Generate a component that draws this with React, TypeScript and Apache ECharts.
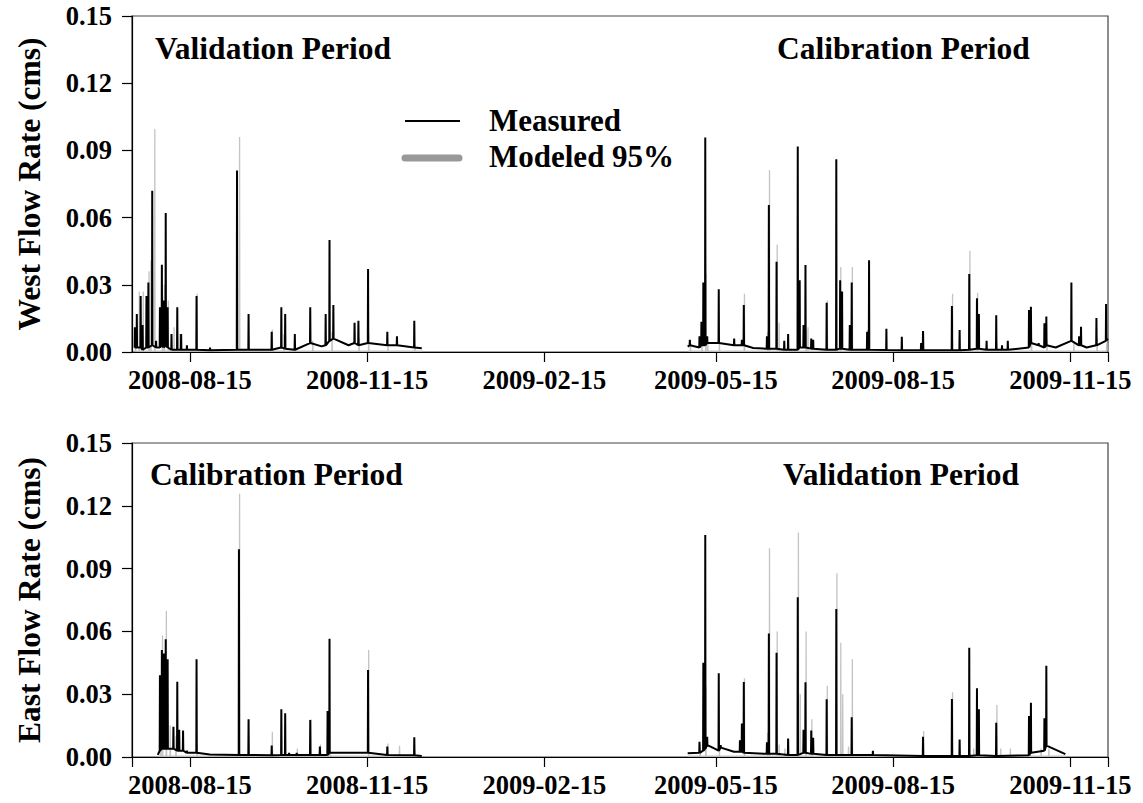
import React, { useEffect, useRef } from "react";
import * as echarts from "echarts";

// ---------- data ----------
// tick dates on the time axis
const tickDates = ["2008-08-15", "2008-11-15", "2009-02-15", "2009-05-15", "2009-08-15", "2009-11-15"];
const axisStart = "2008-07-16";
const axisEnd = "2009-12-04";

// measured events: [date, peak (cms), base flow around the event (cms)]
const westMeasured2008: [string, number, number][] = [
  ["2008-07-17", 0.011, 0.002], ["2008-07-18", 0.017, 0.002], ["2008-07-20", 0.025, 0.002],
  ["2008-07-21", 0.012, 0.001], ["2008-07-23", 0.025, 0.002], ["2008-07-24", 0.031, 0.002],
  ["2008-07-26", 0.072, 0.003], ["2008-07-28", 0.005, 0.002], ["2008-07-30", 0.020, 0.002],
  ["2008-07-31", 0.039, 0.003], ["2008-08-01", 0.023, 0.002], ["2008-08-02", 0.062, 0.003],
  ["2008-08-03", 0.020, 0.002], ["2008-08-05", 0.008, 0.001], ["2008-08-08", 0.020, 0.001],
  ["2008-08-10", 0.008, 0.001], ["2008-08-13", 0.003, 0.001], ["2008-08-18", 0.025, 0.001],
  ["2008-08-25", 0.002, 0.0008], ["2008-09-08", 0.081, 0.001], ["2008-09-14", 0.017, 0.001],
  ["2008-09-26", 0.009, 0.001], ["2008-10-01", 0.020, 0.002], ["2008-10-03", 0.017, 0.0015],
  ["2008-10-08", 0.008, 0.001], ["2008-10-16", 0.020, 0.004], ["2008-10-22", 0.0025, 0.0025],
  ["2008-10-24", 0.017, 0.003], ["2008-10-26", 0.050, 0.005], ["2008-10-28", 0.021, 0.006],
  ["2008-11-05", 0.003, 0.003], ["2008-11-08", 0.013, 0.004], ["2008-11-10", 0.014, 0.003],
  ["2008-11-15", 0.037, 0.004], ["2008-11-25", 0.009, 0.003], ["2008-11-30", 0.007, 0.003],
  ["2008-12-09", 0.014, 0.002], ["2008-12-13", 0.0017, 0.0017],
];
const westMeasured2009: [string, number, number][] = [
  ["2009-04-30", 0.0024, 0.0024], ["2009-05-01", 0.0054, 0.003], ["2009-05-06", 0.007, 0.002],
  ["2009-05-07", 0.0135, 0.003], ["2009-05-08", 0.031, 0.003], ["2009-05-09", 0.0958, 0.003],
  ["2009-05-10", 0.007, 0.004], ["2009-05-16", 0.028, 0.004], ["2009-05-24", 0.006, 0.003],
  ["2009-05-28", 0.0054, 0.003], ["2009-05-29", 0.021, 0.003], ["2009-06-03", 0.0018, 0.0018],
  ["2009-06-10", 0.007, 0.0015], ["2009-06-11", 0.0656, 0.0015], ["2009-06-15", 0.0403, 0.0015],
  ["2009-06-19", 0.005, 0.001], ["2009-06-21", 0.008, 0.001], ["2009-06-26", 0.0917, 0.001],
  ["2009-06-27", 0.032, 0.002], ["2009-06-29", 0.012, 0.002], ["2009-06-30", 0.0388, 0.002],
  ["2009-07-03", 0.006, 0.0015], ["2009-07-04", 0.0055, 0.0015], ["2009-07-11", 0.022, 0.001],
  ["2009-07-16", 0.086, 0.001], ["2009-07-18", 0.032, 0.0015], ["2009-07-19", 0.027, 0.0015],
  ["2009-07-23", 0.012, 0.001], ["2009-07-24", 0.031, 0.001], ["2009-08-01", 0.009, 0.001],
  ["2009-08-02", 0.041, 0.001], ["2009-08-11", 0.0104, 0.0009], ["2009-08-19", 0.0068, 0.0008],
  ["2009-08-29", 0.004, 0.0008], ["2009-08-30", 0.0094, 0.0008], ["2009-09-14", 0.0205, 0.0008],
  ["2009-09-18", 0.0098, 0.0008], ["2009-09-23", 0.0348, 0.001], ["2009-09-27", 0.024, 0.0015],
  ["2009-09-28", 0.017, 0.0015], ["2009-10-02", 0.005, 0.001], ["2009-10-07", 0.0164, 0.001],
  ["2009-10-10", 0.003, 0.001], ["2009-10-13", 0.005, 0.001], ["2009-10-24", 0.0188, 0.002],
  ["2009-10-25", 0.0202, 0.004], ["2009-10-29", 0.004, 0.003], ["2009-11-01", 0.0128, 0.002],
  ["2009-11-02", 0.0158, 0.003], ["2009-11-07", 0.002, 0.002], ["2009-11-15", 0.031, 0.005],
  ["2009-11-19", 0.007, 0.003], ["2009-11-20", 0.0113, 0.003], ["2009-11-23", 0.002, 0.002],
  ["2009-11-28", 0.0152, 0.003], ["2009-12-03", 0.0214, 0.005], ["2009-12-04", 0.006, 0.006],
];

// modeled (95%) events: [date, peak]
const westModeled2008: [string, number][] = [
  ["2008-07-17", 0.008], ["2008-07-19", 0.027], ["2008-07-21", 0.027], ["2008-07-24", 0.036],
  ["2008-07-25", 0.041], ["2008-07-27", 0.0996], ["2008-07-31", 0.025], ["2008-08-01", 0.030],
  ["2008-08-03", 0.023], ["2008-08-06", 0.011], ["2008-08-09", 0.008], ["2008-08-18", 0.026],
  ["2008-09-09", 0.096], ["2008-09-26", 0.010], ["2008-10-02", 0.008], ["2008-10-17", 0.005],
  ["2008-10-27", 0.009], ["2008-11-10", 0.006], ["2008-11-15", 0.008], ["2008-11-25", 0.003],
  ["2008-12-09", 0.003], ["2008-12-13", 0.0005],
];
const westModeled2009: [string, number][] = [
  ["2009-04-30", 0.0005], ["2009-05-01", 0.004], ["2009-05-07", 0.005], ["2009-05-09", 0.035],
  ["2009-05-10", 0.004], ["2009-05-16", 0.005], ["2009-05-29", 0.026], ["2009-06-10", 0.009],
  ["2009-06-11", 0.0813], ["2009-06-15", 0.048], ["2009-06-16", 0.013], ["2009-06-30", 0.010],
  ["2009-07-01", 0.011], ["2009-07-11", 0.023], ["2009-07-18", 0.038], ["2009-07-24", 0.038],
  ["2009-08-01", 0.010], ["2009-08-19", 0.003], ["2009-08-30", 0.009], ["2009-09-14", 0.026],
  ["2009-09-23", 0.0452], ["2009-09-27", 0.0265], ["2009-10-07", 0.004], ["2009-10-25", 0.006],
  ["2009-11-02", 0.005], ["2009-11-16", 0.004], ["2009-11-28", 0.006], ["2009-12-03", 0.004],
];

const eastMeasured2008: [string, number, number][] = [
  ["2008-07-29", 0.001, 0.001], ["2008-07-30", 0.039, 0.003], ["2008-07-31", 0.0511, 0.004],
  ["2008-08-01", 0.0495, 0.004], ["2008-08-02", 0.0562, 0.004], ["2008-08-03", 0.0467, 0.004],
  ["2008-08-06", 0.0145, 0.004], ["2008-08-08", 0.036, 0.003], ["2008-08-09", 0.013, 0.003],
  ["2008-08-11", 0.0126, 0.003], ["2008-08-13", 0.003, 0.002], ["2008-08-18", 0.0467, 0.002],
  ["2008-08-25", 0.0012, 0.0012], ["2008-09-09", 0.0992, 0.001], ["2008-09-14", 0.018, 0.001],
  ["2008-09-26", 0.0055, 0.0008], ["2008-10-01", 0.0228, 0.001], ["2008-10-03", 0.0209, 0.001],
  ["2008-10-05", 0.002, 0.001], ["2008-10-09", 0.002, 0.001], ["2008-10-16", 0.0177, 0.001],
  ["2008-10-21", 0.005, 0.001], ["2008-10-25", 0.022, 0.001], ["2008-10-26", 0.0565, 0.002],
  ["2008-11-13", 0.002, 0.002], ["2008-11-15", 0.0416, 0.002], ["2008-11-25", 0.005, 0.001],
  ["2008-12-09", 0.0094, 0.0008], ["2008-12-13", 0.0005, 0.0005],
];
const eastMeasured2009: [string, number, number][] = [
  ["2009-04-30", 0.0018, 0.0018], ["2009-05-06", 0.0073, 0.002], ["2009-05-08", 0.045, 0.003],
  ["2009-05-09", 0.106, 0.004], ["2009-05-10", 0.0097, 0.0057], ["2009-05-14", 0.004, 0.004],
  ["2009-05-16", 0.040, 0.003], ["2009-05-17", 0.0057, 0.0045], ["2009-05-24", 0.0025, 0.0025],
  ["2009-05-27", 0.008, 0.0025], ["2009-05-28", 0.016, 0.0025], ["2009-05-29", 0.0358, 0.002],
  ["2009-06-10", 0.007, 0.0015], ["2009-06-11", 0.059, 0.0015], ["2009-06-15", 0.0498, 0.0015],
  ["2009-06-21", 0.0088, 0.001], ["2009-06-26", 0.0763, 0.001], ["2009-06-29", 0.013, 0.002],
  ["2009-06-30", 0.0357, 0.002], ["2009-07-03", 0.0126, 0.0015], ["2009-07-04", 0.0092, 0.0015],
  ["2009-07-11", 0.0276, 0.001], ["2009-07-16", 0.0707, 0.001], ["2009-07-24", 0.019, 0.001],
  ["2009-08-04", 0.003, 0.001], ["2009-08-30", 0.0097, 0.0005], ["2009-09-14", 0.0277, 0.0005],
  ["2009-09-18", 0.0084, 0.0005], ["2009-09-23", 0.0522, 0.0005], ["2009-09-27", 0.0328, 0.0008],
  ["2009-09-28", 0.0228, 0.0008], ["2009-10-07", 0.0164, 0.0005], ["2009-10-24", 0.0196, 0.0008],
  ["2009-10-25", 0.0259, 0.002], ["2009-11-01", 0.0185, 0.003], ["2009-11-02", 0.0436, 0.0054],
  ["2009-11-12", 0.0014, 0.0014],
];

const eastModeled2008: [string, number][] = [
  ["2008-07-29", 0.0005], ["2008-07-30", 0.030], ["2008-07-31", 0.058], ["2008-08-02", 0.0698],
  ["2008-08-04", 0.015], ["2008-08-07", 0.010], ["2008-08-18", 0.006], ["2008-09-09", 0.1257],
  ["2008-09-26", 0.0121], ["2008-10-09", 0.004], ["2008-10-16", 0.018], ["2008-10-21", 0.006],
  ["2008-10-26", 0.003], ["2008-11-15", 0.0511], ["2008-11-25", 0.0065], ["2008-12-01", 0.0054],
  ["2008-12-09", 0.003], ["2008-12-13", 0.0005],
];
const eastModeled2009: [string, number][] = [
  ["2009-04-30", 0.0005], ["2009-05-06", 0.006], ["2009-05-09", 0.0336], ["2009-05-16", 0.004],
  ["2009-05-29", 0.0376], ["2009-06-10", 0.0116], ["2009-06-11", 0.0997], ["2009-06-15", 0.0599],
  ["2009-06-16", 0.006], ["2009-06-19", 0.004], ["2009-06-26", 0.1073], ["2009-06-27", 0.030],
  ["2009-06-30", 0.0599], ["2009-07-03", 0.018], ["2009-07-11", 0.034], ["2009-07-16", 0.0878],
  ["2009-07-18", 0.0546], ["2009-07-19", 0.030], ["2009-07-22", 0.005], ["2009-07-24", 0.0467],
  ["2009-08-30", 0.0124], ["2009-09-14", 0.0309], ["2009-09-25", 0.004], ["2009-10-07", 0.0248],
  ["2009-10-09", 0.004], ["2009-10-14", 0.004], ["2009-10-24", 0.006], ["2009-10-30", 0.004],
  ["2009-11-03", 0.004], ["2009-11-12", 0.0005],
];
const modeledBase = 0.0004;

// ---------- helpers ----------
const HOUR = 3600000;
function ts(s: string): number {
  const [y, m, d] = s.split("-").map(Number);
  return Date.UTC(y, m - 1, d);
}
function measuredLine(ev: [string, number, number][]): [number, number][] {
  const out: [number, number][] = [];
  ev.forEach(([d, peak, base]) => {
    const t = ts(d) + 12 * HOUR;
    out.push([t - 3 * HOUR, base], [t, peak], [t + 3 * HOUR, base]);
  });
  return out;
}
function modeledLine(ev: [string, number][]): [number, number][] {
  const out: [number, number][] = [];
  ev.forEach(([d, peak]) => {
    const t = ts(d) + 20 * HOUR;
    out.push([t - 3 * HOUR, modeledBase], [t, peak], [t + 3 * HOUR, modeledBase]);
  });
  return out;
}
const pad = (n: number) => (n < 10 ? "0" + n : "" + n);
function fmtDate(v: number): string {
  const d = new Date(v);
  return `${d.getUTCFullYear()}-${pad(d.getUTCMonth() + 1)}-${pad(d.getUTCDate())}`;
}

const FONT = "'Liberation Serif', 'Times New Roman', serif";

export default function App() {
  const ref = useRef<HTMLDivElement>(null);
  useEffect(() => {
    if (!ref.current) return;
    const chart = echarts.init(ref.current, undefined, { renderer: "svg" });
    const xMin = ts(axisStart);
    const xMax = ts(axisEnd) + 12 * HOUR;
    const labelVals = tickDates.map(ts);
    const mkX = (gridIndex: number, withStart: boolean) => ({
      type: "value",
      gridIndex,
      min: xMin,
      max: xMax,
      axisLine: { lineStyle: { color: "#000", width: 1.2 } },
      axisTick: {
        show: true,
        length: 10,
        lineStyle: { color: "#000", width: 1.2 },
        customValues: withStart ? [xMin, ...labelVals, xMax] : [...labelVals, xMax],
      },
      axisLabel: {
        customValues: labelVals,
        formatter: (v: number) => fmtDate(v),
        fontFamily: FONT,
        fontWeight: "bold",
        fontSize: 26.5,
        color: "#000",
        margin: 14,
        hideOverlap: false,
      },
      splitLine: { show: false },
      minorTick: { show: false },
    });
    const mkY = (gridIndex: number, name: string) => ({
      type: "value",
      gridIndex,
      min: 0,
      max: 0.15,
      interval: 0.03,
      name,
      nameLocation: "middle",
      nameRotate: 90,
      nameGap: 87,
      nameTextStyle: { fontFamily: FONT, fontWeight: "bold", fontSize: 31.5, color: "#000" },
      axisLine: { show: true, lineStyle: { color: "#000", width: 1.2 } },
      axisTick: { show: true, length: 10, lineStyle: { color: "#000", width: 1.2 } },
      axisLabel: {
        formatter: (v: number) => v.toFixed(2),
        fontFamily: FONT,
        fontWeight: "bold",
        fontSize: 26.5,
        color: "#000",
        margin: 20,
      },
      splitLine: { show: false },
    });
    const modeledStyle = { color: "#c4c4c4", width: 1.3 };
    const measuredStyle = { color: "#000", width: 2 };
    const line = (name: string, idx: number, data: [number, number][], style: any, z: number) => ({
      name,
      type: "line",
      xAxisIndex: idx,
      yAxisIndex: idx,
      data,
      showSymbol: false,
      symbol: "none",
      lineStyle: style,
      z,
      silent: true,
    });
    const titleText = (text: string, x: number, y: number) => ({
      type: "text",
      left: x,
      top: y,
      style: { text, fontFamily: FONT, fontWeight: "bold", fontSize: 31.5, fill: "#000" },
      z: 100,
    });
    chart.setOption({
      animation: false,
      backgroundColor: "#fff",
      grid: [
        { left: 132, top: 16, width: 976, height: 336, show: true, borderColor: "#444", borderWidth: 1.2 },
        { left: 132, top: 443, width: 976, height: 314, show: true, borderColor: "#444", borderWidth: 1.2 },
      ],
      xAxis: [mkX(0, false), mkX(1, true)],
      yAxis: [mkY(0, "West Flow Rate (cms)"), mkY(1, "East Flow Rate (cms)")],
      series: [
        line("Modeled 95%", 0, modeledLine(westModeled2008), modeledStyle, 2),
        line("Modeled 95%", 0, modeledLine(westModeled2009), modeledStyle, 2),
        line("Measured", 0, measuredLine(westMeasured2008), measuredStyle, 3),
        line("Measured", 0, measuredLine(westMeasured2009), measuredStyle, 3),
        line("Modeled 95%", 1, modeledLine(eastModeled2008), modeledStyle, 2),
        line("Modeled 95%", 1, modeledLine(eastModeled2009), modeledStyle, 2),
        line("Measured", 1, measuredLine(eastMeasured2008), measuredStyle, 3),
        line("Measured", 1, measuredLine(eastMeasured2009), measuredStyle, 3),
      ],
      graphic: [
        titleText("Validation Period", 155, 32),
        titleText("Calibration Period", 777, 32),
        titleText("Calibration Period", 150, 458),
        titleText("Validation Period", 783, 458),
        { type: "line", shape: { x1: 405, y1: 121, x2: 460, y2: 121 }, style: { stroke: "#000", lineWidth: 2 }, z: 100 },
        { type: "line", shape: { x1: 405, y1: 158, x2: 459, y2: 158 }, style: { stroke: "#999", lineWidth: 7, lineCap: "round" }, z: 100 },
        {
          type: "text", left: 489, top: 105, z: 100,
          style: { text: "Measured", fontFamily: FONT, fontWeight: "bold", fontSize: 31, fill: "#000" },
        },
        {
          type: "text", left: 489, top: 141, z: 100,
          style: { text: "Modeled 95%", fontFamily: FONT, fontWeight: "bold", fontSize: 31, fill: "#000" },
        },
      ],
    });
    return () => chart.dispose();
  }, []);
  return (
    <div
      ref={ref}
      style={{ position: "absolute", left: 0, top: 0, width: 1143, height: 803, background: "#fff" }}
    />
  );
}
